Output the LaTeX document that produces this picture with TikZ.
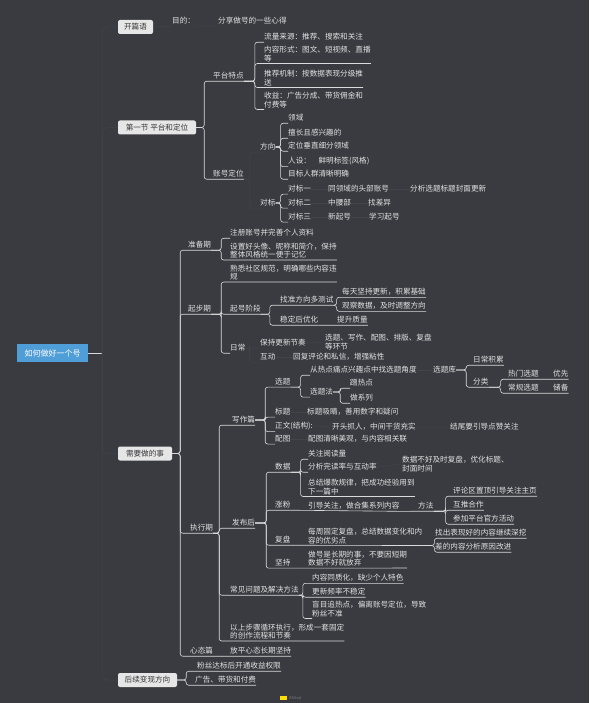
\documentclass[tikz,border=0pt]{standalone}
\usepackage{fontspec}
\newfontfamily\cjk{Noto Sans CJK SC}
\usepackage{tikz}

\definecolor{bgc}{RGB}{58,59,64}
\definecolor{fg}{RGB}{226,226,226}
\definecolor{lnc}{RGB}{218,218,218}
\definecolor{dimc}{RGB}{67,68,73}
\definecolor{boxc}{RGB}{230,230,230}
\definecolor{boxtxt}{RGB}{55,55,58}
\definecolor{rootc}{RGB}{80,158,215}

\tikzset{
  tx/.style={anchor=west,inner xsep=0pt,inner ysep=1.5pt,text=fg,
    font=\cjk\fontsize{7.6}{8.6}\selectfont},
  txx/.style={tx,align=left},
  ln/.style={draw=lnc,line width=0.6pt,rounded corners=2.5pt},
  dimln/.style={draw=dimc,line width=0.5pt,rounded corners=2.5pt},
  mainbox/.style={fill=boxc,rounded corners=2pt,text=boxtxt,minimum height=14pt,
    inner xsep=0pt,font=\cjk\fontsize{7.6}{8.6}\selectfont},
  rootbox/.style={fill=rootc,text=white,minimum width=71pt,minimum height=18pt,
    font=\cjk\fontsize{8}{9}\selectfont}
}

\begin{document}
\begin{tikzpicture}[x=1pt,y=-1pt]
\fill[bgc] (0,0) rectangle (589,703);
\useasboundingbox (0,0) rectangle (589,703);

% root and main topics
\node[rootbox] (root) at (52.5,353) {如何做好一个号};
\coordinate (hub) at (102,353);
\draw[ln] (root.east) -- (hub);
\node[mainbox,minimum width=35pt] (m1) at (135.5,27) {开篇语};
\node[mainbox,minimum width=78pt] (m2) at (157,127.5) {第一节 平台和定位};
\node[mainbox,minimum width=54pt] (m3) at (145,453.5) {需要做的事};
\node[mainbox,minimum width=59pt] (m4) at (147.5,680) {后续变现方向};
\foreach \m in {m1,m2,m3,m4}
  \draw[dimln,rounded corners=6pt] (hub) |- (\m.west);

% opening
\node[tx] (t1) at (172,21) {目的：};
\node[tx] (t2) at (218,21) {分享做号的一些心得};
\draw[dimln] (m1.east) -- (t1.south west);
\draw[dimln] (t1.south east) -- (t2.south west);

% section one
\node[tx] (p1) at (213,76) {平台特点};
\node[tx] (p2) at (213,174) {账号定位};
\draw[ln] (m2.east) -- ++(8,0) |- (p1.south east);
\draw[ln] (m2.east) -- ++(8,0) |- (p2.south east);

\node[tx] (p1a) at (264,37) {流量来源：推荐、搜索和关注};
\node[txx] (p1b) at (264,54) {内容形式：图文、短视频、直播\\等};
\node[txx] (p1c) at (264,78) {推荐机制：按数据表现分级推\\送};
\node[txx] (p1d) at (264,100) {收益：广告分成、带货佣金和\\付费等};
\draw[ln] (p1.south east) -- ++(11,0) |- (p1a.south west);
\draw[ln] (p1.south east) -- ++(11,0) |- (p1b.south east);
\draw[ln] (p1.south east) -- ++(11,0) |- (p1c.south east);
\draw[ln] (p1.south east) -- ++(11,0) |- (p1d.south west);

\node[tx] (q1) at (260,147) {方向};
\node[tx] (q2) at (260,203) {对标};
\draw[dimln] (p2.south east) -- ++(6,0) |- (q1.south west);
\draw[dimln] (p2.south east) -- ++(6,0) |- (q2.south west);

\node[tx] (q1a) at (288,118) {领域};
\node[tx] (q1b) at (288,133) {擅长且感兴趣的};
\node[tx] (q1c) at (288,146) {定位垂直细分领域};
\node[tx] (q1d) at (288,161) {人设：\quad 鲜明标签(风格)};
\node[tx] (q1e) at (288,174) {目标人群清晰明确};
\foreach \c in {q1a,q1b,q1c,q1d,q1e}
  \draw[ln] (q1.east) -- ++(5,0) |- (\c.south west);

\node[tx] (r1) at (288,189) {对标一};
\node[tx] (r1b) at (328,189) {同领域的头部账号};
\node[tx] (r1c) at (410,189) {分析选题标题封面更新};
\node[tx] (r2) at (288,203) {对标二};
\node[tx] (r2b) at (328,203) {中腰部};
\node[tx] (r2c) at (368,203) {找差异};
\node[tx] (r3) at (288,217) {对标三};
\node[tx] (r3b) at (328,217) {新起号};
\node[tx] (r3c) at (369,217) {学习起号};
\foreach \c in {r1,r2,r3}
  \draw[ln] (q2.east) -- ++(5,0) |- (\c.south west);
\draw[dimln] (r1.east) -- (r1b.west) (r1b.east) -- (r1c.west);
\draw[dimln] (r2.east) -- (r2b.west) (r2b.east) -- (r2c.west);
\draw[dimln] (r3.east) -- (r3b.west) (r3b.east) -- (r3c.west);

% things to do
\node[tx] (prep) at (188,245) {准备期};
\node[tx] (start) at (188,309) {起步期};
\node[tx] (exec) at (190,528) {执行期};
\node[tx] (mind) at (190,651) {心态篇};
\foreach \c in {prep,start,exec,mind}
  \draw[ln] (m3.east) -- ++(8,0) |- (\c.south east);

\node[tx] (prep1) at (230,233) {注册账号并完善个人资料};
\node[txx] (prep2) at (230,250.5) {设置好头像、昵称和简介，保持\\整体风格统一便于记忆};
\draw[ln] (prep.south east) -- ++(10,0) |- (prep1.south west);
\draw[ln] (prep.south east) -- ++(10,0) |- (prep2.south east);

\node[txx] (st1) at (230,272.5) {熟悉社区规范，明确哪些内容违\\规};
\node[tx] (st2) at (230,309) {起号阶段};
\node[tx] (st3) at (230,348) {日常};
\draw[ln] (start.south east) -- ++(10,0) |- (st1.south east);
\draw[ln] (start.south east) -- ++(10,0) |- (st2.south east);
\draw[ln] (start.south east) -- ++(10,0) |- (st3.south west);

\node[tx] (st2a) at (280,300) {找准方向多测试};
\node[tx] (st2b) at (280,320) {稳定后优化};
\draw[ln] (st2.south east) -- ++(9,0) |- (st2a.south east);
\draw[ln] (st2.south east) -- ++(9,0) |- (st2b.south east);
\node[tx] (st2a1) at (342,292) {每天坚持更新，积累基础};
\node[tx] (st2a2) at (342,306) {观察数据，及时调整方向};
\draw[ln] (st2a.south east) -- ++(3,0) |- (st2a1.south east);
\draw[ln] (st2a.south east) -- ++(3,0) |- (st2a2.south east);
\node[tx] (st2b1) at (337,320) {提升质量};
\draw[ln] (st2b.south east) -- (st2b1.south east);

\node[tx] (st3a) at (260,343) {保持更新节奏};
\node[tx] (st3b) at (260,357) {互动};
\draw[dimln] (st3.east) -- ++(4,0) |- (st3a.south west);
\draw[dimln] (st3.east) -- ++(4,0) |- (st3b.south west);
\node[txx] (st3a1) at (325,342) {选题、写作、配图、排版、复盘\\等环节};
\node[tx] (st3b1) at (293,357) {回复评论和私信，增强粘性};
\draw[dimln] (st3a.east) -- (st3a1.west);
\draw[dimln] (st3b.east) -- (st3b1.west);

% execution
\node[tx] (write) at (232,420) {写作篇};
\node[tx] (post) at (232,523) {发布后};
\node[tx] (faq) at (230,590) {常见问题及解决方法};
\node[txx] (loop) at (230,631.5) {以上步骤循环执行，形成一套固定\\的创作流程和节奏};
\foreach \c in {write,post,faq,loop}
  \draw[ln] (exec.south east) -- ++(6,0) |- (\c.south east);

\node[tx] (w1) at (275,382) {选题};
\node[tx] (w2) at (275,412) {标题};
\node[tx] (w3) at (275,426) {正文(结构):};
\node[tx] (w4) at (275,439) {配图};
\draw[ln] (write.east) -- ++(10,0) |- (w1.south east);
\foreach \c in {w2,w3,w4}
  \draw[ln] (write.east) -- ++(10,0) |- (\c.south west);

\node[tx] (e1) at (310,370) {从热点痛点兴趣点中找选题角度};
\node[tx] (e2) at (310,392) {选题法};
\draw[ln] (w1.south east) -- ++(10,0) |- (e1.south west);
\draw[ln] (w1.south east) -- ++(10,0) |- (e2.south west);
\node[tx] (e1a) at (433,370) {选题库};
\draw[dimln] (e1.east) -- (e1a.west);
\node[tx] (f1) at (473,360) {日常积累};
\node[tx] (f2) at (473,382) {分类};
\draw[ln] (e1a.east) -- ++(10,0) |- (f1.south east);
\draw[ln] (e1a.east) -- ++(10,0) |- (f2.south east);
\node[tx] (g1) at (508,374) {热门选题};
\node[tx] (g2) at (508,388) {常规选题};
\node[tx] (g1b) at (553,374) {优先};
\node[tx] (g2b) at (553,388) {储备};
\draw[ln] (f2.south east) -- ++(12,0) |- (g1.south east) -- (g1b.south east);
\draw[ln] (f2.south east) -- ++(12,0) |- (g2.south east) -- (g2b.south east);
\node[tx] (e2a) at (350,383) {蹭热点};
\node[tx] (e2b) at (350,398) {做系列};
\draw[ln] (e2.east) -- ++(7,0) |- (e2a.south west);
\draw[ln] (e2.east) -- ++(7,0) |- (e2b.south west);

\node[tx] (w2a) at (307,412) {标题吸睛，善用数字和疑问};
\node[tx] (w3a) at (332,427) {开头抓人，中间干货充实};
\node[tx] (w3b) at (450,427) {结尾要引导点赞关注};
\node[tx] (w4a) at (308,439) {配图清晰美观，与内容相关联};
\draw[dimln] (w2.east) -- (w2a.west);
\draw[dimln] (w3.east) -- (w3a.west) (w3a.east) -- (w3b.west);
\draw[dimln] (w4.east) -- (w4a.west);

\node[tx] (v1) at (275,467) {数据};
\node[tx] (v2) at (275,505) {涨粉};
\node[tx] (v3) at (275,540) {复盘};
\node[tx] (v4) at (275,563) {坚持};
\foreach \c in {v1,v2,v3,v4}
  \draw[ln] (post.east) -- ++(11,0) |- (\c.south east);

\node[tx] (h1) at (308,454) {关注阅读量};
\node[tx] (h2) at (308,467) {分析完读率与互动率};
\node[txx] (h3) at (308,487) {总结爆款规律，把成功经验用到\\下一篇中};
\draw[ln] (v1.south east) -- ++(10,0) |- (h1.south west);
\draw[ln] (v1.south east) -- ++(10,0) |- (h2.south west);
\draw[ln] (v1.south east) -- ++(10,0) |- (h3.south east);
\node[txx] (h2a) at (402,464) {数据不好及时复盘，优化标题、\\封面时间};
\draw[dimln] (h2.east) -- (h2a.west);

\node[tx] (v2a) at (308,506) {引导关注，做合集系列内容};
\node[tx] (v2b) at (418,506) {方法};
\draw[ln] (v2.south east) -- (v2a.south east) -- (v2b.south east);
\node[tx] (k1) at (453,491) {评论区置顶引导关注主页};
\node[tx] (k2) at (453,505) {互推合作};
\node[tx] (k3) at (453,519) {参加平台官方活动};
\foreach \c in {k1,k2,k3}
  \draw[ln] (v2b.south east) -- ++(12,0) |- (\c.south east);

\node[txx] (v3a) at (308,536) {每周固定复盘，总结数据变化和内\\容的优劣点};
\draw[ln] (v3.south east) -- (v3a.south east);
\node[tx] (n1) at (435,533) {找出表现好的内容继续深挖};
\node[tx] (n2) at (435,547) {差的内容分析原因改进};
\draw[ln] (v3a.south east) -- ++(12,0) |- (n1.south east);
\draw[ln] (v3a.south east) -- ++(12,0) |- (n2.south east);

\node[txx] (v4a) at (308,558.5) {做号是长期的事，不要因短期\\数据不好就放弃};
\draw[ln] (v4.south east) -- (v4a.south east);

\node[tx] (faq1) at (312,578) {内容同质化，缺少个人特色};
\node[tx] (faq2) at (312,592) {更新频率不稳定};
\node[txx] (faq3) at (312,609) {盲目追热点，偏离账号定位，导致\\粉丝不准};
\draw[ln] (faq.south east) -- ++(4,0) |- (faq1.south east);
\draw[ln] (faq.south east) -- ++(4,0) |- (faq2.south east);
\draw[ln] (faq.south east) -- ++(4,0) |- (faq3.south west);

\node[tx] (mind1) at (230,651) {放平心态长期坚持};
\draw[ln] (mind.south east) -- (mind1.south east);

% monetisation
\node[tx] (x1) at (197,666) {粉丝达标后开通收益权限};
\node[tx] (x2) at (195,680) {广告、带货和付费};
\draw[ln] (m4.east) -- ++(9,0) |- (x1.south east);
\draw[ln] (m4.east) -- ++(9,0) |- (x2.south east);

% watermark
\fill[yellow!80!orange] (280,696) rectangle (287,700);
\node[anchor=west,inner sep=0pt,text=gray,font=\sffamily\fontsize{4}{4}\selectfont] (wm) at (289,698) {XMind};
\end{tikzpicture}
\end{document}
